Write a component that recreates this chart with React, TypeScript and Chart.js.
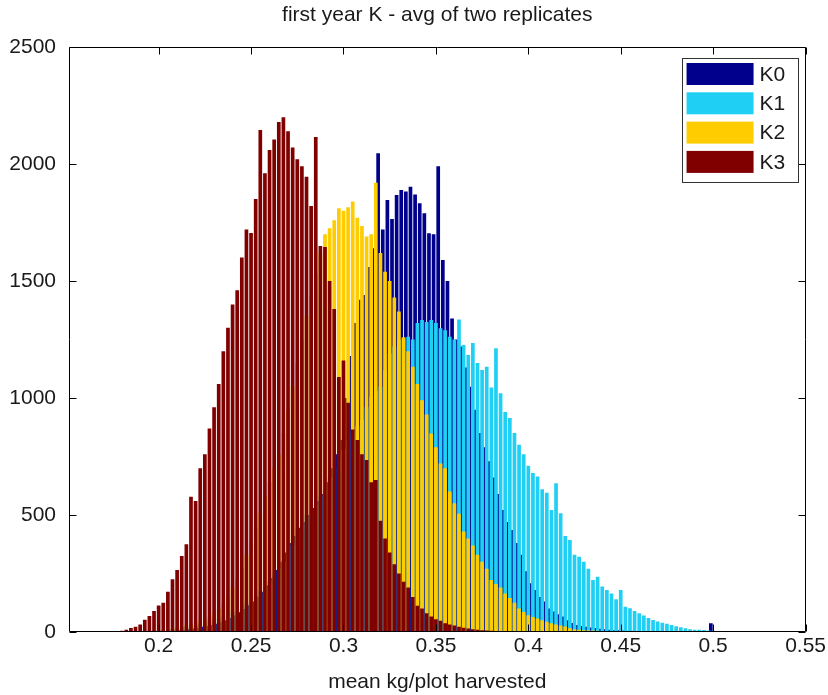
import React, { useEffect, useRef } from "react";
import { Chart, registerables } from "chart.js";

Chart.register(...registerables);

// ---------------- data ----------------
const TITLE = "first year K - avg of two replicates";
const X_TITLE = "mean kg/plot harvested";

// histogram bins: centre of bin k = BIN_START + k * BIN_WIDTH (+ series bin offset)
const BIN_START = 0.16;
const BIN_WIDTH = 0.0025;

const X_MIN = 0.1515;
const X_MAX = 0.55;
const X_TICKS = [0.2, 0.25, 0.3, 0.35, 0.4, 0.45, 0.5, 0.55];
const X_TICK_LABELS = ["0.2", "0.25", "0.3", "0.35", "0.4", "0.45", "0.5", "0.55"];
const Y_TICKS = [0, 500, 1000, 1500, 2000, 2500];
const Y_TICK_LABELS = ["0", "500", "1000", "1500", "2000", "2500"];

const SERIES_LABELS = ["K0", "K1", "K2", "K3"];
const SERIES_COLORS = ["#00008C", "#20D0F4", "#FFCC00", "#800000"];

// first bin index of each series, and bin-edge offset (in bins) of each series
const K0_START = 16;
const K1_START = 12;
const K2_START = 12;
const K3_START = 0;
const SERIES_BIN_OFFSETS = [0.5, 0, 0, 0];

const K0 = [
  3, 4, 5, 6, 8, 10, 12, 15, 18, 22,
  26, 30, 35, 42, 50, 60, 70, 84, 98, 114,
  130, 150, 172, 200, 230, 265, 300, 340, 380, 410,
  445, 470, 500, 530, 560, 590, 640, 700, 760, 820,
  1000, 1180, 1320, 1420, 1440, 1560, 1640, 2046, 1720, 1846,
  1765, 1868, 1889, 1882, 1903, 1870, 1832, 1790, 1704, 1700,
  1990, 1590, 1500, 1340, 1250, 1220, 1130, 1048, 950, 850,
  790, 730, 660, 590, 521, 470, 436, 380, 330, 260,
  208, 180, 150, 130, 100, 88, 76, 66, 50, 38,
  30, 26, 22, 19, 17, 14, 12, 10, 8, 7,
  6, 5, 5, 4, 4, 3, 3, 3, 2, 2,
  2, 2, 1, 1, 1, 1, 0, 0, 0, 37,
];

const K1 = [
  3, 4, 5, 6, 8, 9, 11, 13, 15, 18,
  21, 24, 28, 33, 38, 44, 50, 58, 66, 75,
  85, 97, 110, 125, 140, 158, 176, 198, 220, 245,
  272, 300, 330, 370, 440, 470, 500, 520, 545, 578,
  610, 660, 700, 740, 780, 820, 850, 880, 906, 960,
  1005, 1030, 1048, 1120, 1190, 1220, 1248, 1255, 1262, 1250,
  1320, 1333, 1325, 1333, 1320, 1298, 1290, 1262, 1250, 1335,
  1226, 1184, 1235, 1150, 1120, 1134, 1045, 1213, 1020, 940,
  915, 850, 800, 760, 710, 680, 665, 610, 595, 521,
  636, 507, 410, 393, 330, 322, 300, 270, 222, 236,
  194, 179, 165, 140, 179, 108, 101, 90, 80, 70,
  60, 51, 45, 40, 35, 30, 25, 20, 16, 12,
  10, 10, 9, 6, 5, 4, 4, 3, 3, 2, 2,
];

const K2 = [
  3, 4, 5, 6, 8, 10, 12, 16, 20, 24,
  28, 34, 40, 48, 55, 66, 80, 98, 120, 150,
  190, 225, 270, 330, 390, 445, 510, 580, 640, 700,
  760, 850, 950, 1050, 1150, 1250, 1350, 1440, 1530, 1620,
  1700, 1725, 1760, 1811, 1800, 1815, 1840, 1770, 1735, 1690,
  1700, 1920, 1620, 1540, 1500, 1430, 1370, 1260, 1200, 1134,
  1060, 990, 930, 848, 790, 720, 700, 600, 550, 505,
  430, 400, 370, 330, 300, 270, 222, 205, 190, 165,
  145, 125, 100, 85, 72, 64, 58, 50, 44, 37,
  32, 28, 23, 16, 12, 10, 8, 7, 6, 5,
  4, 3,
];

const K3 = [
  2, 0, 0, 2, 3, 0, 2, 3, 5, 10,
  17, 22, 32, 52, 68, 90, 113, 125, 172, 225,
  265, 325, 375, 578, 560, 700, 760, 870, 960, 1060,
  1200, 1300, 1400, 1460, 1600, 1720, 1705, 1850, 2145, 1960,
  2060, 2105, 2180, 2200, 2140, 2070, 2020, 1990, 1945, 1820,
  2115, 1650, 1645, 1500, 1380, 1090, 1160, 980, 865, 820,
  760, 735, 640, 650, 475, 400, 340, 290, 250, 215,
  190, 150, 112, 100, 80, 66, 55, 48, 37, 32,
  28, 22, 18, 15, 12, 10, 8, 6, 5, 4,
  3, 2, 2,
];

const SERIES = [
  { values: K0, start: K0_START },
  { values: K1, start: K1_START },
  { values: K2, start: K2_START },
  { values: K3, start: K3_START },
];

// ---------------- helpers ----------------
const FONT_FAMILY = "'Liberation Sans', Arial, Helvetica, sans-serif";
const FONT_SIZE = 21;
const TEXT_COLOR = "#1a1a1a";

function binCenter(k: number): number {
  return Math.round((BIN_START + k * BIN_WIDTH) * 1e6) / 1e6;
}

function toPoints(values: number[], start: number, offset: number) {
  return values.map((v, i) => ({ x: binCenter(start + i + offset), y: v }));
}

const framePlugin = {
  id: "matlabFrame",
  afterDatasetsDraw(chart: any) {
    const { ctx, chartArea, scales } = chart;
    const l = Math.round(chartArea.left) + 0.5;
    const r = Math.round(chartArea.right) - 0.5;
    const t = Math.round(chartArea.top) + 0.5;
    const b = Math.round(chartArea.bottom) - 0.5;
    const tl = 7;
    ctx.save();
    ctx.strokeStyle = "#000";
    ctx.lineWidth = 1;
    ctx.beginPath();
    ctx.rect(l, t, r - l, b - t);
    scales.x.ticks.forEach((tk: any) => {
      const px = Math.round(scales.x.getPixelForValue(tk.value)) + 0.5;
      ctx.moveTo(px, b);
      ctx.lineTo(px, b - tl);
      ctx.moveTo(px, t);
      ctx.lineTo(px, t + tl);
    });
    scales.y.ticks.forEach((tk: any) => {
      const py = Math.round(scales.y.getPixelForValue(tk.value)) + 0.5;
      ctx.moveTo(l, py);
      ctx.lineTo(l + tl, py);
      ctx.moveTo(r, py);
      ctx.lineTo(r - tl, py);
    });
    ctx.stroke();
    ctx.restore();
  },
};

const legendPlugin = {
  id: "boxLegend",
  afterDraw(chart: any) {
    const { ctx, chartArea } = chart;
    const boxRight = chartArea.right - 8;
    const boxTop = chartArea.top + 11;
    const boxW = 116;
    const boxH = 124;
    const boxLeft = boxRight - boxW;
    ctx.save();
    ctx.fillStyle = "#fff";
    ctx.fillRect(boxLeft, boxTop, boxW, boxH);
    ctx.strokeStyle = "#333";
    ctx.lineWidth = 1;
    ctx.strokeRect(Math.round(boxLeft) + 0.5, Math.round(boxTop) + 0.5, boxW, boxH);
    ctx.font = `normal ${FONT_SIZE}px ${FONT_FAMILY}`;
    ctx.textBaseline = "middle";
    ctx.textAlign = "left";
    chart.data.datasets.forEach((ds: any, i: number) => {
      const rowTop = boxTop + 5 + i * 29.3;
      ctx.fillStyle = ds.backgroundColor;
      ctx.fillRect(boxLeft + 5, rowTop, 67, 22);
      ctx.fillStyle = TEXT_COLOR;
      ctx.fillText(ds.label, boxLeft + 78, rowTop + 12);
    });
    ctx.restore();
  },
};

export default function App() {
  const ref = useRef<HTMLCanvasElement | null>(null);

  useEffect(() => {
    if (!ref.current) return;
    const datasets = SERIES.map((s, i) => ({
      label: SERIES_LABELS[i],
      data: toPoints(s.values, s.start, SERIES_BIN_OFFSETS[i]),
      backgroundColor: SERIES_COLORS[i],
      borderWidth: 0,
      grouped: false,
      order: 4 - i,
      // smallest x spacing is half a bin (offset grids), so 1.6 -> 0.8 of a bin
      barPercentage: 1.6,
      categoryPercentage: 1,
      inflateAmount: 0,
    }));

    const chart = new Chart(ref.current, {
      type: "bar",
      data: { datasets: datasets as any },
      options: {
        animation: false,
        responsive: false,
        devicePixelRatio: 1,
        layout: { padding: { left: 0, right: 20, top: 0, bottom: 0 } },
        plugins: {
          legend: { display: false },
          tooltip: { enabled: false },
          title: {
            display: true,
            fullSize: false,
            text: TITLE,
            color: TEXT_COLOR,
            font: { family: FONT_FAMILY, size: FONT_SIZE, weight: "normal" },
            padding: { top: 3, bottom: 47 - 3 - FONT_SIZE * 1.2 },
          },
        },
        scales: {
          x: {
            type: "linear",
            min: X_MIN,
            max: X_MAX,
            offset: false,
            grid: { display: false, drawTicks: false },
            border: { display: false },
            afterBuildTicks: (axis: any) => {
              axis.ticks = X_TICKS.map((v) => ({ value: v }));
            },
            afterFit: (axis: any) => {
              axis.height = 63;
            },
            ticks: {
              autoSkip: false,
              maxRotation: 0,
              padding: 2,
              color: TEXT_COLOR,
              font: { family: FONT_FAMILY, size: FONT_SIZE },
              callback: (_v: any, index: number) => X_TICK_LABELS[index],
            },
            title: {
              display: true,
              text: X_TITLE,
              color: TEXT_COLOR,
              font: { family: FONT_FAMILY, size: FONT_SIZE },
              padding: { top: 0, bottom: 0 },
            },
          },
          y: {
            type: "linear",
            min: 0,
            max: 2500,
            grid: { display: false, drawTicks: false },
            border: { display: false },
            afterBuildTicks: (axis: any) => {
              axis.ticks = Y_TICKS.map((v) => ({ value: v }));
            },
            afterFit: (axis: any) => {
              axis.width = 69;
            },
            ticks: {
              padding: 13,
              color: TEXT_COLOR,
              font: { family: FONT_FAMILY, size: FONT_SIZE },
              callback: (_v: any, index: number) => Y_TICK_LABELS[index],
            },
          },
        },
      },
      plugins: [framePlugin, legendPlugin],
    });
    return () => chart.destroy();
  }, []);

  return (
    <div style={{ position: "absolute", left: 0, top: 0, width: 828, height: 695, background: "#fff" }}>
      <canvas ref={ref} width={828} height={695} style={{ display: "block", width: 828, height: 695 }} />
    </div>
  );
}
